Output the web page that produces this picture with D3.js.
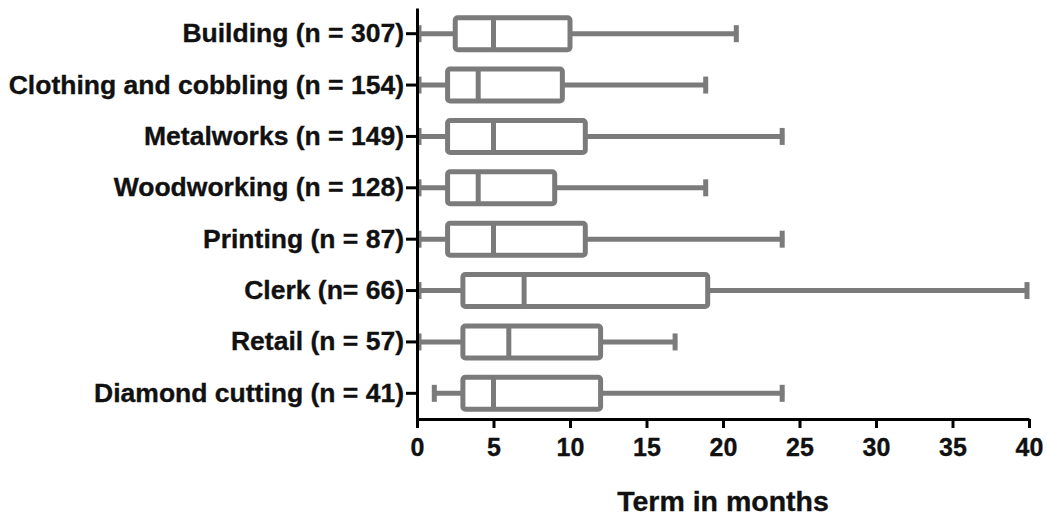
<!DOCTYPE html>
<html>
<head>
<meta charset="utf-8">
<script src="https://cdn.jsdelivr.net/npm/d3@7"></script>
<style>
  body { margin: 0; background: #fff; }
  text { font-family: "Liberation Sans", Arial, sans-serif; font-weight: bold; fill: #111; stroke: #111; stroke-width: 0.35px; }
</style>
</head>
<body>
<svg id="chart" width="1047" height="520"></svg>
<script>
const categories = [
    "Building (n = 307)",
    "Clothing and cobbling (n = 154)",
    "Metalworks (n = 149)",
    "Woodworking (n = 128)",
    "Printing (n = 87)",
    "Clerk (n= 66)",
    "Retail (n = 57)",
    "Diamond cutting (n = 41)"
];
const minValues = [0, 0, 0, 0, 0, 0, 0, 1];
const q1Values = [2.5, 2, 2, 2, 2, 3, 3, 3];
const medianValues = [5, 4, 5, 4, 5, 7, 6, 5];
const q3Values = [10, 9.5, 11, 9, 11, 19, 12, 12];
const maxValues = [21, 19, 24, 19, 24, 40, 17, 24];
const xTicks = [0, 5, 10, 15, 20, 25, 30, 35, 40];
const xTitle = "Term in months";

const data = categories.map((name, i) => ({
    name: name,
    min: minValues[i],
    q1: q1Values[i],
    median: medianValues[i],
    q3: q3Values[i],
    max: maxValues[i]
}));

const svg = d3.select("#chart"),
    margin = { top: 8, left: 417, right: 18, bottom: 101 },
    width = +svg.attr("width") - margin.left - margin.right,
    height = +svg.attr("height") - margin.top - margin.bottom;

const x = d3.scaleLinear().domain([0, 40]).range([0, width]);
const y = d3.scaleBand().domain(categories).range([0, height]);

const grey = "#7b7b7b";
const boxH = 32, capH = 17, sw = 5;
const mid = (d) => y(d.name) + y.bandwidth() / 2;

const g = svg.append("g")
    .attr("transform", "translate(" + margin.left + "," + margin.top + ")");

// whiskers
g.append("g")
    .selectAll(".whisker")
    .data(data)
    .enter()
    .append("line")
    .attr("class", "whisker")
    .attr("x1", (d) => x(d.min))
    .attr("x2", (d) => x(d.max))
    .attr("y1", mid)
    .attr("y2", mid)
    .attr("stroke", grey)
    .attr("stroke-width", sw);

// caps
["min", "max"].forEach((k) => {
    g.append("g")
        .selectAll(".cap-" + k)
        .data(data)
        .enter()
        .append("line")
        .attr("class", "cap-" + k)
        .attr("x1", (d) => x(d[k]) + (k == "min" ? 2 : -2))
        .attr("x2", (d) => x(d[k]) + (k == "min" ? 2 : -2))
        .attr("y1", (d) => mid(d) - capH / 2)
        .attr("y2", (d) => mid(d) + capH / 2)
        .attr("stroke", grey)
        .attr("stroke-width", sw);
});

// boxes
g.append("g")
    .selectAll(".box")
    .data(data)
    .enter()
    .append("rect")
    .attr("class", "box")
    .attr("x", (d) => x(d.q1))
    .attr("width", (d) => x(d.q3) - x(d.q1))
    .attr("y", (d) => mid(d) - boxH / 2)
    .attr("height", boxH)
    .attr("rx", 2.5)
    .attr("fill", "#fff")
    .attr("stroke", grey)
    .attr("stroke-width", sw);

// medians
g.append("g")
    .selectAll(".median")
    .data(data)
    .enter()
    .append("line")
    .attr("class", "median")
    .attr("x1", (d) => x(d.median))
    .attr("x2", (d) => x(d.median))
    .attr("y1", (d) => mid(d) - boxH / 2)
    .attr("y2", (d) => mid(d) + boxH / 2)
    .attr("stroke", grey)
    .attr("stroke-width", sw);

// axes
const xAxis = g.append("g")
    .attr("transform", "translate(0," + height + ")")
    .call(d3.axisBottom(x).tickValues(xTicks).tickSize(9).tickPadding(9).tickSizeOuter(0));

const yAxis = g.append("g")
    .call(d3.axisLeft(y).tickSize(11).tickPadding(2).tickSizeOuter(0));

[xAxis, yAxis].forEach((a) => {
    a.select(".domain").attr("stroke", "#000").attr("stroke-width", 3);
    a.selectAll(".tick line").attr("stroke", "#000").attr("stroke-width", 3);
    a.attr("font-family", null).attr("font-size", null);
});
xAxis.selectAll("text").style("font-size", "25px").attr("dy", "0.75em");
yAxis.selectAll("text").style("font-size", "26.5px");

svg.append("text")
    .attr("x", margin.left + width / 2)
    .attr("y", 511)
    .attr("text-anchor", "middle")
    .style("font-size", "28.5px")
    .text(xTitle);
</script>
</body>
</html>
